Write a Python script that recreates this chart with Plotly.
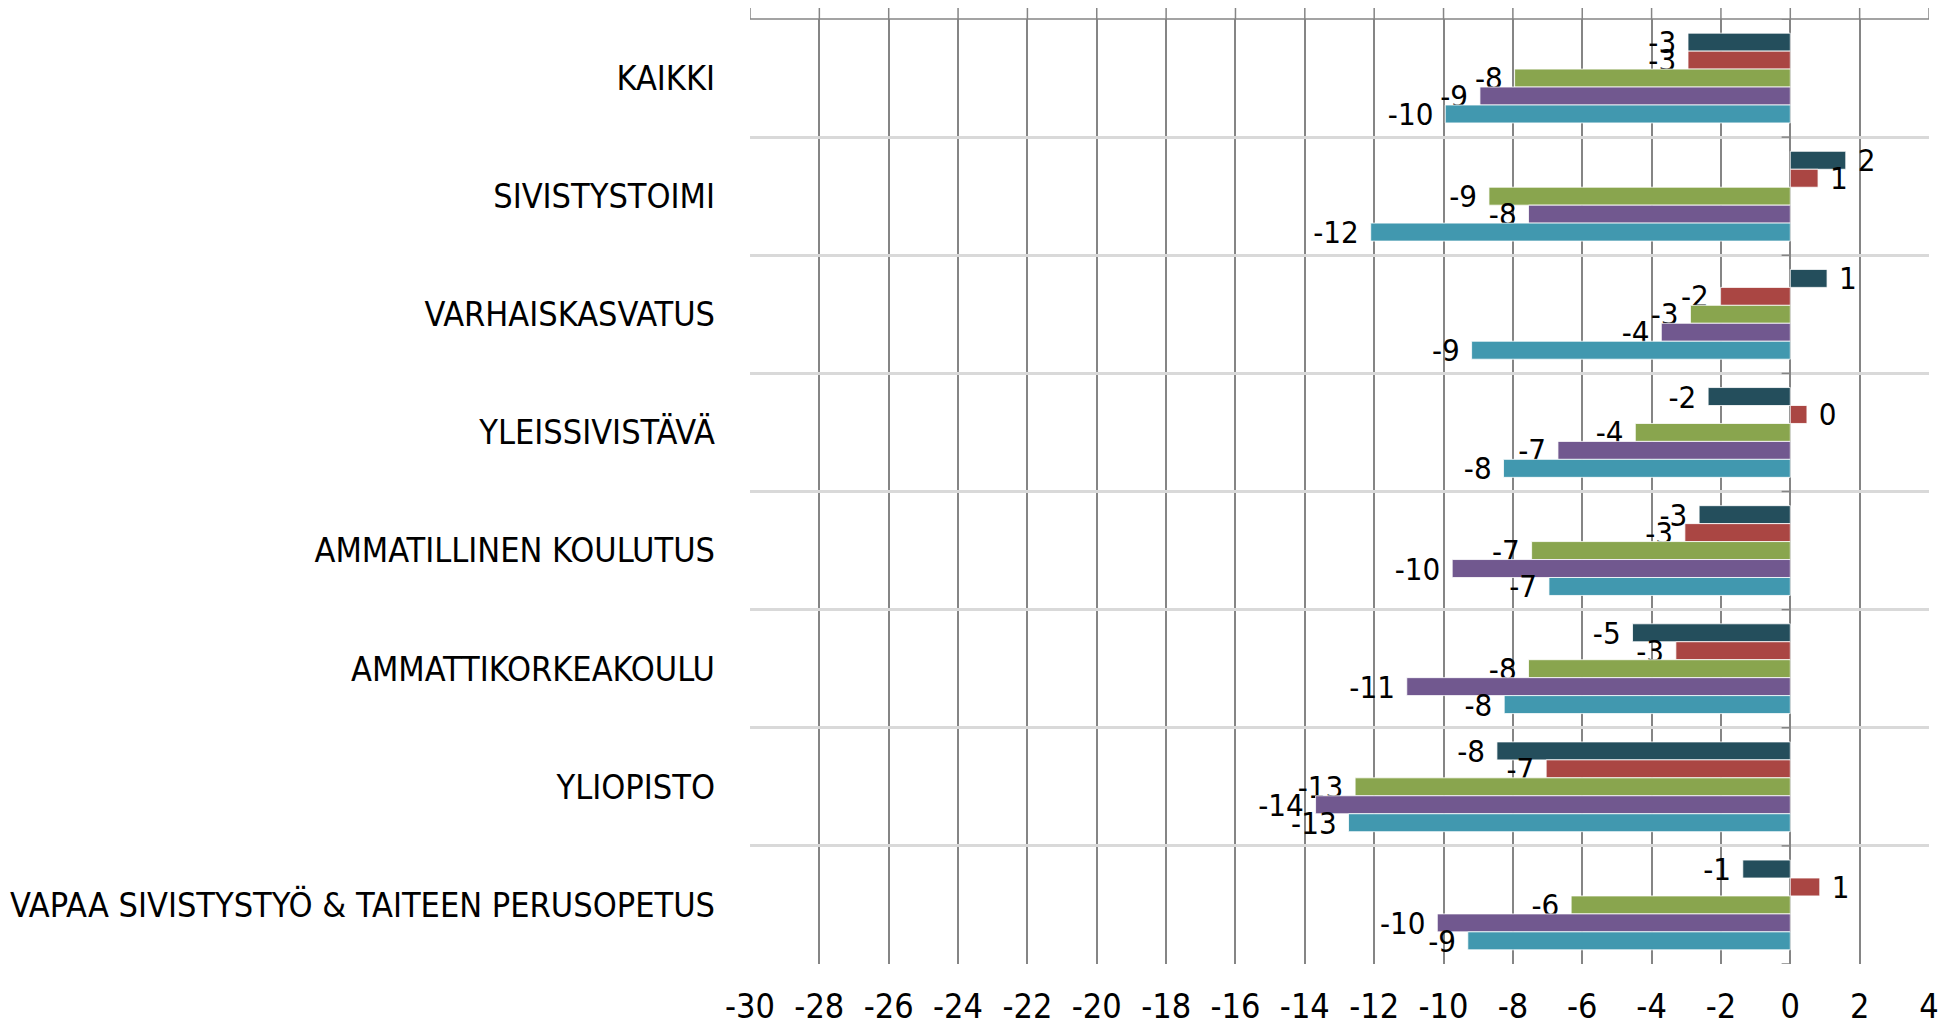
import plotly.graph_objects as go

# categories, top to bottom
categories = [
    "KAIKKI",
    "SIVISTYSTOIMI",
    "VARHAISKASVATUS",
    "YLEISSIVISTÄVÄ",
    "AMMATILLINEN KOULUTUS",
    "AMMATTIKORKEAKOULU",
    "YLIOPISTO",
    "VAPAA SIVISTYSTYÖ & TAITEEN PERUSOPETUS",
]

# five series, drawn top-to-bottom inside each group
series_a = [-2.95, 1.6, 1.06, -2.37, -2.63, -4.55, -8.46, -1.37]
series_b = [-2.95, 0.8, -2.01, 0.48, -3.04, -3.3, -7.04, 0.85]
series_c = [-7.95, -8.69, -2.88, -4.47, -7.46, -7.55, -12.55, -6.32]
series_d = [-8.95, -7.55, -3.72, -6.7, -9.75, -11.06, -13.69, -10.18]
series_e = [-9.95, -12.1, -9.19, -8.27, -6.96, -8.25, -12.74, -9.3]

# value axis ticks (plain hyphen minus, like the original)
tick_vals = list(range(-30, 5, 2))
tick_text = [str(v) for v in tick_vals]

colors = ["#244E5C", "#AA4643", "#89A54E", "#71588F", "#4198AF"]
all_series = [series_a, series_b, series_c, series_d, series_e]

font_family = "DejaVu Sans Condensed, Liberation Sans Narrow, sans-serif"
grid_grey = "#858585"
NBSP = "\u00a0"


def label(v):
    # round half away from zero, plain hyphen, a little space on the bar side
    r = int(abs(v) + 0.5)
    if v < 0 and r != 0:
        return f"-{r}{NBSP}"
    return f"{NBSP}{r}"


fig = go.Figure()
for vals, col in zip(all_series, colors):
    fig.add_trace(go.Bar(
        x=vals, y=categories, orientation="h",
        marker=dict(color=col, line=dict(color="white", width=0.8)),
        text=[label(v) for v in vals], textposition="outside",
        textfont=dict(family=font_family, size=31, color="black"),
        constraintext="none", cliponaxis=False,
        showlegend=False, hoverinfo="x+y",
    ))

# small tick marks on the zero line at category boundaries
for i in range(len(categories) + 1):
    fig.add_shape(type="line", xref="x", yref="y",
                  x0=-0.25, x1=0, y0=i - 0.5, y1=i - 0.5,
                  line=dict(color=grid_grey, width=1.5))

# value axis line at the top with short outward ticks
fig.add_shape(type="line", xref="paper", yref="paper", x0=0, x1=1, y0=1, y1=1,
              line=dict(color=grid_grey, width=1.5))
for v in tick_vals:
    fig.add_shape(type="line", xref="x", yref="paper", x0=v, x1=v, y0=1, y1=1.012,
                  line=dict(color=grid_grey, width=1.5))

fig.update_xaxes(
    range=[-30, 4], tickvals=tick_vals, ticktext=tick_text,
    showgrid=True, gridcolor=grid_grey, gridwidth=1.5,
    zeroline=True, zerolinecolor=grid_grey, zerolinewidth=1.5,
    showline=False, ticks="", automargin=False,
    tickfont=dict(family=font_family, size=34, color="black"),
    ticklabelstandoff=19,
)
fig.update_yaxes(
    type="category", categoryorder="array", categoryarray=categories,
    range=[len(categories) - 0.5, -0.5], tickson="boundaries",
    showgrid=True, gridcolor="#D9D9D9", gridwidth=2.5,
    ticks="", showline=False, automargin=False,
    tickfont=dict(family=font_family, size=34, color="black"),
    ticklabelstandoff=34,
)

# the page body adds an offset, so the margins are shifted to compensate
fig.update_layout(
    barmode="group", bargap=0.24, bargroupgap=0,
    width=1959, height=1024,
    margin=dict(l=742, r=38, t=11, b=68),
    plot_bgcolor="white", paper_bgcolor="white",
)

fig.write_html("out.html")
